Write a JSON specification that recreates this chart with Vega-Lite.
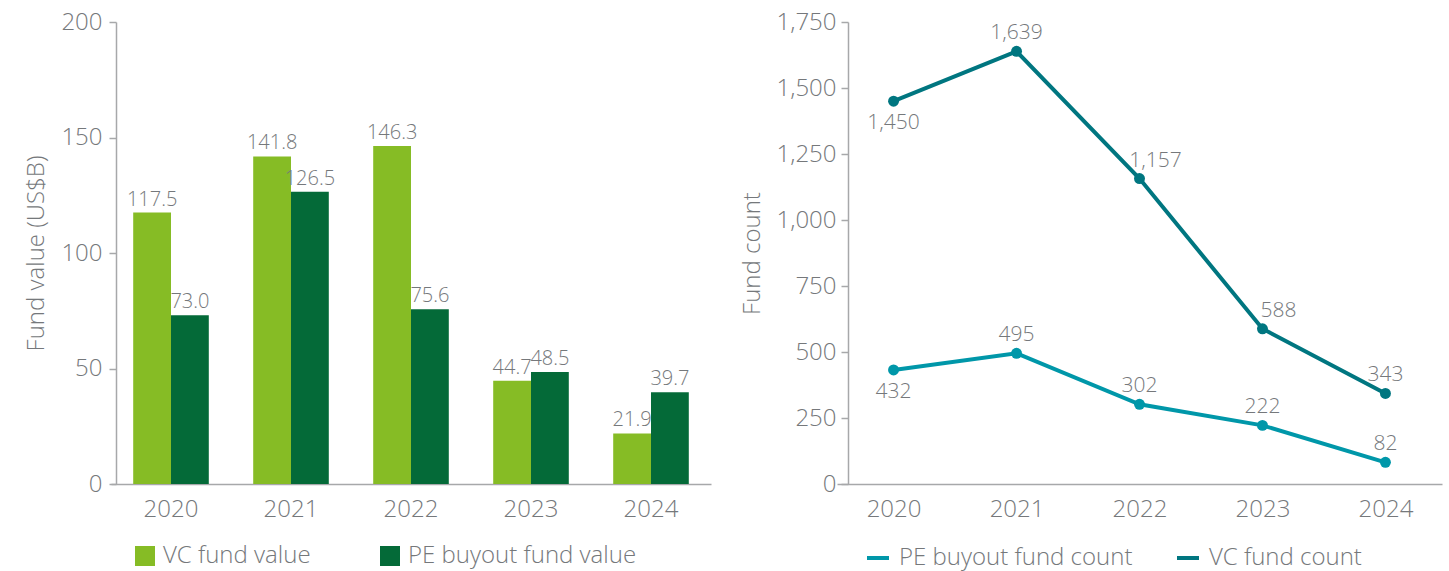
{
  "$schema": "https://vega.github.io/schema/vega-lite/v6.json",
  "background": "white",
  "padding": {"left": 24, "top": 10, "right": 5, "bottom": 0},
  "spacing": 126,
  "bounds": "flush",
  "config": {
    "view": {"stroke": null},
    "font": "Open Sans",
    "axis": {
      "labelFont": "Open Sans", "labelFontWeight": 300, "labelFontSize": 24, "labelColor": "#75787B",
      "titleFont": "Open Sans", "titleFontWeight": 300, "titleFontSize": 24, "titleColor": "#75787B",
      "domainColor": "#A7A8AA", "tickColor": "#A7A8AA", "domainWidth": 1.5, "tickWidth": 1.5, "grid": false
    },
    "legend": {
      "labelFont": "Open Sans", "labelFontWeight": 300, "labelFontSize": 24, "labelColor": "#75787B", "labelLimit": 400
    }
  },
  "datasets": {
    "fundValue": [
      {"year": "2020", "series": "VC fund value", "value": 117.5},
      {"year": "2020", "series": "PE buyout fund value", "value": 73.0},
      {"year": "2021", "series": "VC fund value", "value": 141.8},
      {"year": "2021", "series": "PE buyout fund value", "value": 126.5},
      {"year": "2022", "series": "VC fund value", "value": 146.3},
      {"year": "2022", "series": "PE buyout fund value", "value": 75.6},
      {"year": "2023", "series": "VC fund value", "value": 44.7},
      {"year": "2023", "series": "PE buyout fund value", "value": 48.5},
      {"year": "2024", "series": "VC fund value", "value": 21.9},
      {"year": "2024", "series": "PE buyout fund value", "value": 39.7}
    ],
    "fundCount": [
      {"year": "2020", "series": "PE buyout fund count", "count": 432},
      {"year": "2021", "series": "PE buyout fund count", "count": 495},
      {"year": "2022", "series": "PE buyout fund count", "count": 302},
      {"year": "2023", "series": "PE buyout fund count", "count": 222},
      {"year": "2024", "series": "PE buyout fund count", "count": 82},
      {"year": "2020", "series": "VC fund count", "count": 1450},
      {"year": "2021", "series": "VC fund count", "count": 1639},
      {"year": "2022", "series": "VC fund count", "count": 1157},
      {"year": "2023", "series": "VC fund count", "count": 588},
      {"year": "2024", "series": "VC fund count", "count": 343}
    ]
  },
  "resolve": {"scale": {"color": "independent"}, "legend": {"color": "independent"}},
  "hconcat": [
    {
      "width": 600,
      "height": 462,
      "data": {"name": "fundValue"},
      "encoding": {
        "x": {
          "field": "year", "type": "nominal",
          "scale": {"paddingInner": 0.37, "paddingOuter": 0.185},
          "axis": {"title": null, "labelAngle": 0, "ticks": false, "labelPadding": 13}
        },
        "xOffset": {"field": "series", "type": "nominal", "sort": ["VC fund value", "PE buyout fund value"]},
        "y": {
          "field": "value", "type": "quantitative",
          "scale": {"domain": [0, 200]},
          "axis": {"title": "Fund value (US$B)", "values": [0, 50, 100, 150, 200], "offset": -5, "tickSize": 7, "labelPadding": 7, "titlePadding": 12}
        }
      },
      "layer": [
        {
          "mark": {"type": "bar"},
          "encoding": {
            "color": {
              "field": "series", "type": "nominal",
              "scale": {"domain": ["VC fund value", "PE buyout fund value"], "range": ["#86BC25", "#046A38"]},
              "legend": {
                "title": null, "orient": "bottom", "direction": "horizontal",
                "symbolType": "square", "symbolSize": 400, "symbolStrokeWidth": 0,
                "labelOffset": 6, "columnPadding": 67, "padding": 22, "offset": 1
              }
            }
          }
        },
        {
          "mark": {"type": "text", "baseline": "bottom", "dy": -3, "fontSize": 20, "fontWeight": 300, "color": "#75787B", "font": "Open Sans"},
          "encoding": {"text": {"field": "value", "type": "quantitative", "format": ".1f"}}
        }
      ]
    },
    {
      "width": 605,
      "height": 462,
      "data": {"name": "fundCount"},
      "encoding": {
        "x": {
          "field": "year", "type": "nominal",
          "scale": {"type": "point", "padding": 0.46},
          "axis": {"title": null, "labelAngle": 0, "ticks": false, "labelPadding": 13}
        },
        "y": {
          "field": "count", "type": "quantitative",
          "scale": {"domain": [0, 1750]},
          "axis": {"title": "Fund count", "values": [0, 250, 500, 750, 1000, 1250, 1500, 1750], "format": ",d", "offset": -11, "tickSize": 7, "labelPadding": 5, "titlePadding": 12}
        },
        "color": {
          "field": "series", "type": "nominal",
          "scale": {"domain": ["PE buyout fund count", "VC fund count"], "range": ["#0097A9", "#007680"]},
          "legend": {
            "title": null, "orient": "bottom", "direction": "horizontal",
            "symbolType": "stroke", "symbolSize": 484, "symbolStrokeWidth": 4,
            "labelOffset": 8, "columnPadding": 36, "padding": 28, "offset": -4
          }
        }
      },
      "layer": [
        {"mark": {"type": "line", "strokeWidth": 4}},
        {"mark": {"type": "point", "filled": true, "size": 120, "opacity": 1}},
        {
          "transform": [{"filter": "datum.year == '2020'"}],
          "mark": {"type": "text", "baseline": "top", "dy": 11, "fontSize": 21, "fontWeight": 300, "font": "Open Sans"},
          "encoding": {"text": {"field": "count", "type": "quantitative", "format": ",d"}, "color": {"value": "#75787B"}}
        },
        {
          "transform": [{"filter": "datum.year != '2020' && !(datum.series == 'VC fund count' && (datum.year == '2022' || datum.year == '2023'))"}],
          "mark": {"type": "text", "baseline": "bottom", "dy": -8, "fontSize": 21, "fontWeight": 300, "font": "Open Sans"},
          "encoding": {"text": {"field": "count", "type": "quantitative", "format": ",d"}, "color": {"value": "#75787B"}}
        },
        {
          "transform": [{"filter": "datum.series == 'VC fund count' && (datum.year == '2022' || datum.year == '2023')"}],
          "mark": {"type": "text", "baseline": "bottom", "dy": -8, "dx": 16, "fontSize": 21, "fontWeight": 300, "font": "Open Sans"},
          "encoding": {"text": {"field": "count", "type": "quantitative", "format": ",d"}, "color": {"value": "#75787B"}}
        }
      ]
    }
  ]
}
